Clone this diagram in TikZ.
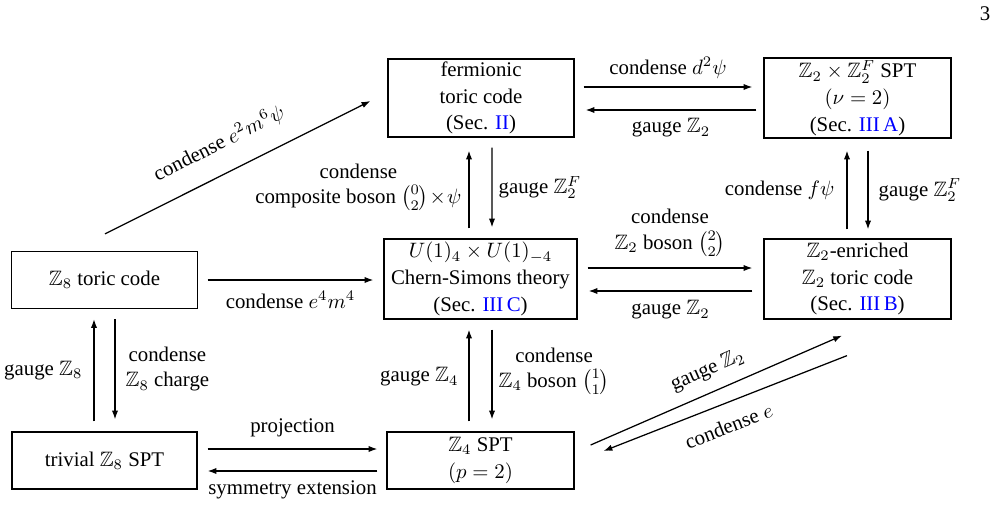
\documentclass[tikz,border=0pt]{standalone}
\usepackage{amsmath}
\usepackage{amssymb}
\usepackage{fontspec}
\setmainfont{Liberation Serif}
\usetikzlibrary{calc,arrows.meta}
\newcommand\pxu{0.48pt}
\begin{document}
\begin{tikzpicture}[x=0.48pt,y=-0.48pt,
  box/.style={draw, line width=0.6pt, inner sep=0pt, align=center, font=\rmfamily\fontsize{10}{12.8}\selectfont},
  arr/.style={-{Latex[length=4.2pt,width=3pt]}, line width=0.6pt},
  rarr/.style={{Latex[length=4.2pt,width=3pt]}-, line width=0.6pt},
  lbl/.style={inner sep=0pt, align=center, font=\rmfamily\fontsize{10}{12.2}\selectfont}]
\useasboundingbox (0,0) rectangle (996,506);
\node[lbl] (pg) at (985,14) {3};
% boxes
\node[box, minimum width=186*\pxu, minimum height=78*\pxu] (ftc) at (481,98)
  {fermionic\\toric code\\(Sec. \textcolor{blue}{II})};
\node[box, minimum width=187*\pxu, minimum height=80*\pxu] (spt2) at (857.5,98)
  {$\mathbb{Z}_2\times\mathbb{Z}_2^F$ SPT\\$(\nu=2)$\\(Sec. \textcolor{blue}{III\,A})};
\node[box, minimum width=186*\pxu, minimum height=57*\pxu] (z8tc) at (104.5,280)
  {$\mathbb{Z}_8$ toric code};
\node[box, minimum width=193*\pxu, minimum height=80*\pxu] (cs) at (480.5,279)
  {$U(1)_4\times U(1)_{-4}$\\Chern-Simons theory\\(Sec. \textcolor{blue}{III\,C})};
\node[box, minimum width=187*\pxu, minimum height=80*\pxu] (z2e) at (857.5,279)
  {$\mathbb{Z}_2$-enriched\\$\mathbb{Z}_2$ toric code\\(Sec. \textcolor{blue}{III\,B})};
\node[box, minimum width=185*\pxu, minimum height=57*\pxu] (triv) at (104.5,460.5)
  {trivial $\mathbb{Z}_8$ SPT};
\node[box, minimum width=187*\pxu, minimum height=57*\pxu] (z4) at (480.5,460.5)
  {$\mathbb{Z}_4$ SPT\\$(p=2)$};
% ftc <-> spt2
\draw[arr] ($(ftc.east)+(9,-11)$) -- ($(spt2.west)+(-11,-11)$)
  node[lbl, midway, yshift=19*\pxu] {condense $d^2\psi$};
\draw[arr] ($(spt2.west)+(-7,12)$) -- ($(ftc.east)+(11,12)$)
  node[lbl, midway, yshift=-18*\pxu] {gauge $\mathbb{Z}_2$};
% ftc <-> cs
\draw[arr] ($(cs.north)+(-11.5,-10)$) -- ($(ftc.south)+(-12,13)$)
  node[lbl, midway, anchor=east, xshift=-7*\pxu, yshift=2*\pxu] {condense\\composite boson $\binom{0}{2}\!\times\!\psi$};
\draw[arr] ($(ftc.south)+(11,10)$) -- ($(cs.north)+(11.5,-11)$)
  node[lbl, midway, anchor=west, xshift=6*\pxu] {gauge $\mathbb{Z}_2^F$};
% cs <-> z2e
\draw[arr] ($(cs.east)+(10,-11)$) -- ($(z2e.west)+(-11,-11)$)
  node[lbl, midway, yshift=35*\pxu] {condense\\$\mathbb{Z}_2$ boson $\binom{2}{2}$};
\draw[arr] ($(z2e.west)+(-11,12)$) -- ($(cs.east)+(11,12)$)
  node[lbl, midway, yshift=-19*\pxu] {gauge $\mathbb{Z}_2$};
% z8tc -> cs
\draw[arr] ($(z8tc.east)+(9.5,0)$) -- ($(z8tc.east -| cs.west)+(-10,0)$)
  node[lbl, midway, yshift=-20*\pxu] {condense $e^4m^4$};
% z8tc -> ftc
\draw[arr] ($(z8tc.north)+(0.5,-17)$) -- ($(ftc.west)+(-17,3)$)
  node[lbl, sloped, pos=0.48, above=9pt] {condense $e^2m^6\psi$};
% z8tc <-> triv
\draw[arr] ($(triv.north)+(-10.5,-10)$) -- ($(z8tc.south)+(-10.5,10)$)
  node[lbl, midway, anchor=east, xshift=-11*\pxu] {gauge $\mathbb{Z}_8$};
\draw[arr] ($(z8tc.south)+(10.5,10)$) -- ($(triv.north)+(10.5,-12)$)
  node[lbl, midway, anchor=west, xshift=10*\pxu] {condense\\$\mathbb{Z}_8$ charge};
% triv <-> z4
\draw[arr] ($(triv.east)+(10,-11.5)$) -- ($(z4.west)+(-9,-11.5)$)
  node[lbl, midway, yshift=21*\pxu] {projection};
\draw[arr] ($(z4.west)+(-9,10.5)$) -- ($(triv.east)+(10,10.5)$)
  node[lbl, midway, yshift=-19*\pxu] {symmetry extension};
% cs <-> z4
\draw[arr] ($(z4.north)+(-11.5,-10)$) -- ($(cs.south)+(-11.5,10)$)
  node[lbl, midway, anchor=east, xshift=-10*\pxu, yshift=-1.5*\pxu] {gauge $\mathbb{Z}_4$};
\draw[arr] ($(cs.south)+(11.5,10)$) -- ($(z4.north)+(11.5,-12)$)
  node[lbl, midway, anchor=west, xshift=6*\pxu, yshift=3*\pxu] {condense\\$\mathbb{Z}_4$ boson $\binom{1}{1}$};
% spt2 <-> z2e
\draw[arr] ($(z2e.north)+(-10.5,-9)$) -- ($(spt2.south)+(-10.5,12)$)
  node[lbl, midway, anchor=east, xshift=-12*\pxu] {condense $f\psi$};
\draw[arr] ($(spt2.south)+(10.5,12)$) -- ($(z2e.north)+(10.5,-9)$)
  node[lbl, midway, anchor=west, xshift=10*\pxu] {gauge $\mathbb{Z}_2^F$};
% z4 <-> z2e
\draw[arr] ($(z4.east)+(16,-15.5)$) -- ($(z2e.south)+(-15.5,16)$)
  node[lbl, sloped, pos=0.5, above=5.5pt] {gauge $\mathbb{Z}_2$};
\draw[rarr] ($(z4.east)+(29,-9.5)$) -- ($(z2e.south)+(-10.5,36)$)
  node[lbl, sloped, pos=0.48, below=7pt] {condense $e$};
\end{tikzpicture}
\end{document}
